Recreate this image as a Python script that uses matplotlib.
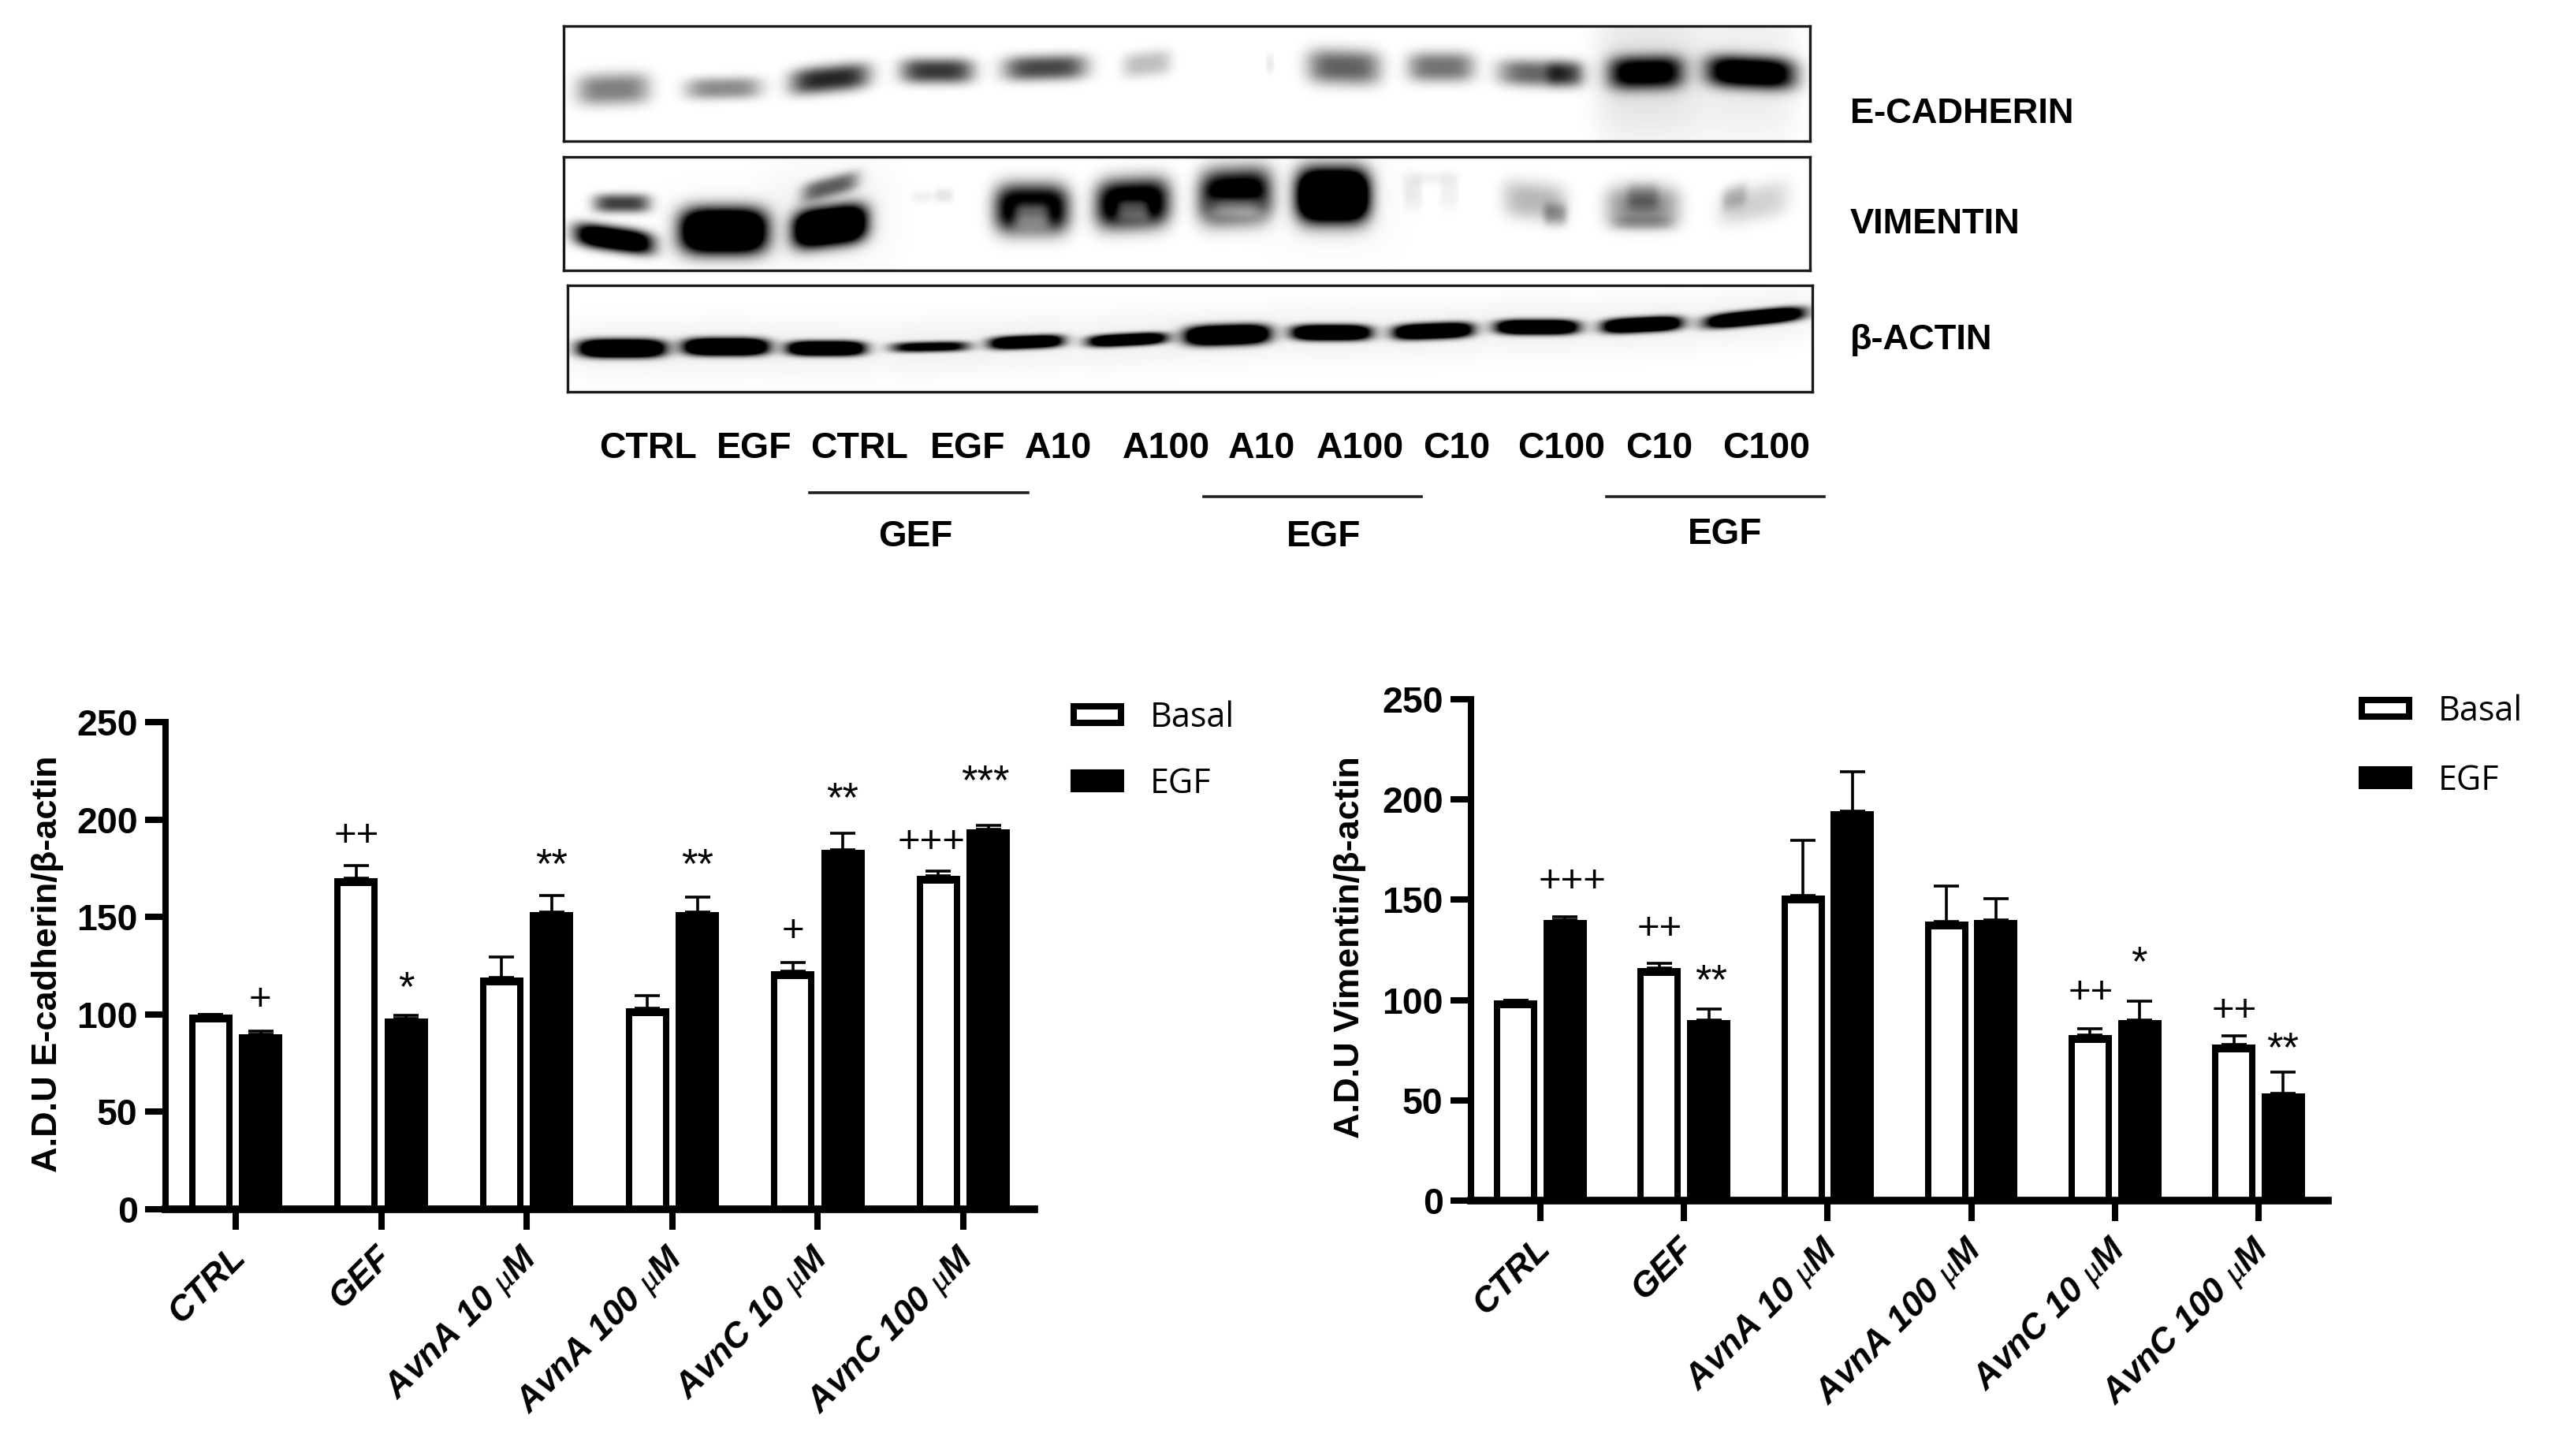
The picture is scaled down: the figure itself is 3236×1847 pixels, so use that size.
import numpy as np
import matplotlib
matplotlib.use("Agg")
import matplotlib.pyplot as plt
from matplotlib.lines import Line2D
from matplotlib.patches import Patch
from matplotlib.transforms import ScaledTranslation

W, H = 3237, 1847

plt.rcParams['font.family'] = ['Liberation Sans', 'DejaVu Sans']
plt.rcParams['mathtext.fontset'] = 'custom'
plt.rcParams['mathtext.it'] = 'Liberation Serif:italic'
plt.rcParams['mathtext.rm'] = 'Liberation Sans'

# Bar chart data
groups = ["CTRL", "GEF", "AvnA 10 $\\mu$M", "AvnA 100 $\\mu$M", "AvnC 10 $\\mu$M", "AvnC 100 $\\mu$M"]
yticks = [0, 50, 100, 150, 200, 250]

ecad_basal = [100, 170, 119, 103, 122, 171]
ecad_basal_err = [0, 6.5, 10.5, 6.5, 4.5, 2.5]
ecad_egf = [90, 98, 152.5, 152.5, 184.5, 195]
ecad_egf_err = [1.5, 1.5, 8.5, 7.5, 8.5, 2]

vim_basal = [100, 116, 152, 139, 82.5, 78]
vim_basal_err = [0, 2.5, 27.5, 18, 3, 4]
vim_egf = [140, 90, 194, 140, 90, 53.5]
vim_egf_err = [1.5, 5.5, 20, 10.5, 9.5, 10.5]

# significance marks: text, group position, height
ecad_marks = [("+", 0.17, 107.5), ("++", 0.83, 191.5), ("*", 1.17, 113), ("**", 2.17, 176),
              ("**", 3.17, 176), ("+", 3.83, 142.5), ("**", 4.17, 210), ("+++", 4.78, 188.5), ("***", 5.15, 219)]
vim_marks = [("+++", 0.22, 159), ("++", 0.83, 135.5), ("**", 1.19, 109), ("++", 3.83, 103.5),
             ("*", 4.17, 118), ("++", 4.83, 94.5), ("**", 5.17, 75)]

# Blot bands in figure pixels: x, y, width, height, darkness, tilt
ecad_bands = [
    (778, 113, 92, 40, 0.5, -0.03), (918, 112, 96, 28, 0.45, -0.02), (1053, 100, 100, 34, 0.85, -0.1),
    (1189, 90, 92, 32, 0.78, 0), (1326, 86, 105, 32, 0.72, -0.03), (1455, 81, 62, 32, 0.25, -0.1),
    (1611, 81, 10, 24, 0.08, 0), (1705, 85, 92, 44, 0.62, 0.03), (1828, 85, 84, 38, 0.55, 0),
    (1954, 93, 106, 34, 0.6, 0.03), (1985, 93, 46, 32, 0.3, 0),
    (2088, 92, 95, 42, 1.1, -0.02), (2221, 92, 112, 40, 1.3, 0.05),
    (2090, 95, 130, 170, 0.12, 0), (2215, 95, 130, 170, 0.08, 0),
]
vim_bands = [
    (789, 258, 72, 24, 0.75, 0), (779, 303, 98, 30, 1.6, 0.14), (918, 293, 108, 56, 2.0, 0),
    (1053, 237, 72, 26, 0.6, -0.25), (1053, 287, 92, 48, 2.0, -0.12),
    (1170, 250, 26, 16, 0.06, 0), (1197, 248, 24, 18, 0.1, 0),
    (1309, 265, 92, 60, 1.35, 0), (1309, 272, 50, 36, -0.75, 0),
    (1437, 258, 92, 60, 1.35, -0.05), (1437, 265, 46, 30, -0.65, 0),
    (1567, 248, 90, 66, 1.3, -0.05), (1567, 262, 66, 28, -0.65, 0), (1691, 248, 90, 66, 2.2, 0),
    (1792, 243, 24, 44, 0.08, 0), (1838, 243, 24, 44, 0.06, 0), (1817, 226, 64, 16, 0.05, 0),
    (1947, 255, 80, 48, 0.28, 0.1), (1973, 272, 30, 28, 0.28, 0),
    (2084, 262, 92, 52, 0.45, 0), (2084, 250, 40, 36, 0.22, 0), (2084, 283, 80, 18, 0.2, 0),
    (2225, 258, 88, 46, 0.18, -0.2), (2200, 250, 32, 30, 0.2, -0.3),
    (918, 293, 170, 110, 0.03, 0), (1053, 270, 170, 140, 0.04, 0), (1691, 255, 170, 140, 0.03, 0),
]
actin_bands = [
    (789, 442, 106, 22, 2.2, 0), (921, 440, 104, 21, 2.2, 0), (1048, 442, 96, 18, 2.0, 0),
    (1180, 440, 98, 13, 1.2, -0.02), (1302, 434, 92, 16, 1.8, -0.04), (1430, 431, 98, 15, 1.8, -0.05),
    (1557, 425, 104, 24, 2.2, -0.03), (1689, 422, 98, 19, 2.0, 0), (1818, 420, 98, 19, 2.0, -0.04),
    (1950, 415, 102, 18, 2.0, 0), (2083, 412, 98, 18, 2.0, -0.05), (2226, 403, 122, 18, 2.0, -0.1),
]
for b in actin_bands[:12]:
    actin_bands = actin_bands + [(b[0], b[1], b[2] + 40, 75, 0.05, b[5])]

lane_labels = ["CTRL", "EGF", "CTRL", "EGF", "A10", "A100", "A10", "A100", "C10", "C100", "C10", "C100"]
lane_x = [822, 957, 1090, 1228, 1342, 1479, 1600, 1725, 1848, 1981, 2105, 2241]


def add_rect_axes(fig, l, t, r, b):
    return fig.add_axes([l / W, 1 - b / H, (r - l) / W, (b - t) / H])


def blot_panel(fig, l, t, r, b, bands):
    xs, ys = np.meshgrid(np.arange(l, r) + 0.5, np.arange(t, b) + 0.5)
    dens = np.zeros(xs.shape)
    for x0, y0, bw, bh, dark, tilt in bands:
        dx = (xs - x0) / (bw / 2)
        dy = (ys - y0 - tilt * (xs - x0)) / (bh / 2)
        dens += dark * np.exp(-np.abs(dx) ** 4) * np.exp(-np.abs(dy) ** 2.6)
    img = 1 - np.clip(dens, 0, 1)
    ax = add_rect_axes(fig, l, t, r, b)
    ax.imshow(img, cmap="gray", vmin=0, vmax=1, aspect="auto", interpolation="bilinear")
    ax.set_xticks([])
    ax.set_yticks([])
    for s in ax.spines.values():
        s.set_linewidth(2.4)
        s.set_color("#1a1a1a")
    return ax


def bar_chart(fig, rect, x0, step, basal, basal_err, egf, egf_err, marks, ylabel, ylab_xy, leg_xy, leg_space):
    l, t, r, b = rect
    ax = add_rect_axes(fig, l, t, r, b)
    x = np.arange(len(groups))
    off = 0.172
    full = 55 / step
    inner = 39 / step
    top_inset = 10 * 250 / (b - t)
    eb = dict(ecolor="black", elinewidth=2.6, capsize=11.5, capthick=2.6, zorder=2)
    ax.bar(x - off, basal, full, color="black", zorder=3, yerr=[np.zeros(len(x)), basal_err], error_kw=eb)
    ax.bar(x - off, np.array(basal) - top_inset, inner, color="white", zorder=4)
    ax.bar(x + off, egf, full, color="black", zorder=3, yerr=[np.zeros(len(x)), egf_err], error_kw=eb)
    ax.set_xlim((l - x0) / step, (r - x0) / step)
    ax.set_ylim(0, 250)
    ax.spines["top"].set_visible(False)
    ax.spines["right"].set_visible(False)
    ax.spines["left"].set_linewidth(5.8)
    ax.spines["bottom"].set_linewidth(7)
    ax.spines["bottom"].set_zorder(5)
    ax.set_yticks(yticks)
    ax.set_yticklabels([str(v) for v in yticks], fontsize=33.5, fontweight="bold")
    ax.tick_params(axis="y", length=18.5, width=5.8, pad=7)
    ax.set_xticks(x)
    ax.tick_params(axis="x", length=18.5, width=5.8, pad=6)
    ax.set_xticklabels(groups, fontsize=32, fontweight="bold", fontstyle="italic",
                       rotation=45, ha="right", va="top", rotation_mode="anchor")
    shift = ScaledTranslation(-8 / 100, -6 / 100, fig.dpi_scale_trans)
    for lab in ax.get_xticklabels():
        lab.set_transform(lab.get_transform() + shift)
    for txt, xp, yp in marks:
        size = 38 if "*" in txt else 35.5
        ax.text(xp, yp, txt, fontsize=size, ha="center", va="center", zorder=6)
    fig.text(ylab_xy[0] / W, 1 - ylab_xy[1] / H, ylabel, fontsize=32.5, fontweight="bold",
             rotation=90, ha="center", va="center")
    handles = [Patch(facecolor="white", edgecolor="black", linewidth=5.8, label="Basal"),
               Patch(facecolor="black", edgecolor="black", linewidth=5.8, label="EGF")]
    ax.legend(handles=handles, loc="upper left", bbox_to_anchor=(leg_xy[0] / W, 1 - leg_xy[1] / H),
              bbox_transform=fig.transFigure, frameon=False, borderpad=0, borderaxespad=0,
              prop={"family": "Open Sans", "size": 31}, handlelength=1.4, handleheight=0.37,
              handletextpad=0.85, labelspacing=leg_space)
    return ax


fig = plt.figure(figsize=(W / 100, H / 100), dpi=100, facecolor="white")

# Blots
blot_panel(fig, 715, 33, 2296, 179, ecad_bands)
blot_panel(fig, 715, 199, 2296, 343, vim_bands)
blot_panel(fig, 720, 362, 2299, 497, actin_bands)

for txt, yp in [("E-CADHERIN", 144), ("VIMENTIN", 285), ("β-ACTIN", 431)]:
    fig.text(2347 / W, 1 - yp / H, txt, fontsize=32.6, fontweight="bold", va="center", ha="left")

for txt, xp in zip(lane_labels, lane_x):
    fig.text(xp / W, 1 - 569 / H, txt, fontsize=33.5, fontweight="bold", va="center", ha="center")

for x1, x2, yp in [(1027, 1304, 625), (1527, 1803, 630), (2038, 2314, 630)]:
    fig.add_artist(Line2D([x1 / W, x2 / W], [1 - yp / H, 1 - yp / H], color="#222222", lw=2.6,
                          transform=fig.transFigure))
for txt, xp, yp in [("GEF", 1161, 681), ("EGF", 1679, 681), ("EGF", 2188, 678)]:
    fig.text(xp / W, 1 - yp / H, txt, fontsize=33, fontweight="bold", va="center", ha="center")

# Bar charts
bar_chart(fig, (210, 916, 1312, 1534), 299, 184.6, ecad_basal, ecad_basal_err, ecad_egf, ecad_egf_err,
          ecad_marks, "A.D.U E-cadherin/β-actin", (61, 1223), (1362, 888), 0.92)
bar_chart(fig, (1866, 887, 2953, 1523), 1954, 182.2, vim_basal, vim_basal_err, vim_egf, vim_egf_err,
          vim_marks, "A.D.U Vimentin/β-actin", (1713, 1202), (2996, 880), 1.02)

fig.savefig("out.png", dpi=100, facecolor="white")
